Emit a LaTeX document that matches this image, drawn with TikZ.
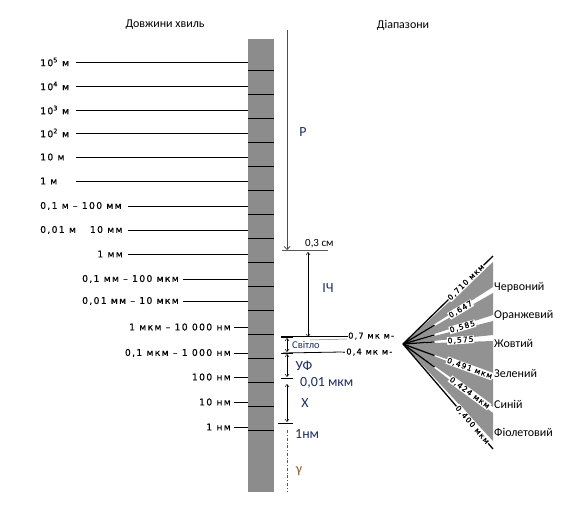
\documentclass[tikz,border=0pt]{standalone}
\usepackage{fontspec}
\setmainfont{Carlito}
\newfontfamily\scanfont[LetterSpace=14, FakeBold=0.4]{DejaVu Sans}
\usetikzlibrary{arrows.meta, calc}
\definecolor{bargray}{RGB}{140,140,140}
\definecolor{bandgray}{RGB}{146,146,146}
\definecolor{rangecolor}{RGB}{30,45,95}
\definecolor{gammacolor}{RGB}{135,90,45}

\begin{document}
\begin{tikzpicture}[x=1bp, y=-1bp,
    scan/.style={font=\scanfont\fontsize{9.3}{11}\selectfont, inner sep=0pt},
    leader/.style={line width=0.9pt},
    rangelabel/.style={font=\fontsize{14}{16}\selectfont, text=rangecolor, inner sep=0pt},
    dimarrow/.style={<->, >={Straight Barb[length=2.5pt, width=4pt]}, line width=0.5pt},
    rangetick/.style={line width=0.6pt},
    fanedge/.style={line width=1.3pt},
    fanlabel/.style={font=\scanfont\fontsize{7.6}{9}\selectfont, fill=white, inner sep=0.6pt},
    colorname/.style={anchor=west, font=\fontsize{12}{14}\selectfont, inner sep=0pt}]
  \useasboundingbox (0,0) rectangle (580,514);

  % titles
  \node[font=\fontsize{12}{14}\selectfont] (tleft) at (165,25) {Довжини хвиль};
  \node[font=\fontsize{12}{14}\selectfont] (tright) at (403,25) {Діапазони};

  % scale bar
  \node[fill=bargray, minimum width=26bp, minimum height=453bp, inner sep=0pt,
        anchor=north west] (bar) at (248,39) {};
  \foreach \y in {70,94,...,430}
    \draw[line width=0.8pt] (bar.west |- 0,\y) -- (bar.east |- 0,\y);

  % wavelengths
  \foreach \txt/\anc/\lx/\y/\sx [count=\i] in {
      {10\textsuperscript{5} м}/west/40/62/76,
      {10\textsuperscript{4} м}/west/40/86/76,
      {10\textsuperscript{3} м}/west/40/110/76,
      {10\textsuperscript{2} м}/west/40/133/76,
      {10 м}/west/40/157/76,
      {1 м}/west/40/181/76,
      {0,1 м – 100 мм}/west/40/206/128,
      {0,01 м\hspace{14bp}10 мм}/west/40/230/128,
      {1 мм}/east/123/254/128,
      {0,1 мм – 100 мкм}/east/179/279/183,
      {0,01 мм – 10 мкм}/east/179/301/183,
      {1 мкм – 10 000 нм}/east/231/327/234,
      {0,1 мкм – 1 000 нм}/east/231/353/234,
      {100 нм}/east/231/377/234,
      {10 нм}/east/231/402/234,
      {1 нм}/east/231/427/234}
  {
    \node[scan, anchor=\anc] (wl\i) at (\lx,\y) {\txt};
    \draw[leader] (\sx,\y) -- (bar.west |- 0,\y);
  }

  % radio
  \coordinate (rtop) at (287,30);
  \coordinate (rend) at (287,250);
  \draw[gray!60!black, line width=0.8pt, -{Straight Barb[length=3pt, width=6pt]}] (rtop) -- (rend);
  \node[rangelabel] (radio) at (303,132) {Р};
  \draw[gray!70!black, line width=1pt] (282,250) -- (328,250);
  \node[anchor=south west, inner sep=1pt, font=\fontsize{11}{13}\selectfont] (cm03) at (304,249) {0,3 см};

  % infrared
  \draw[dimarrow] (308,252) -- (308,337);
  \node[rangelabel] (ir) at (328,288) {ІЧ};

  % light band
  \node[scan, font=\scanfont\fontsize{8.3}{10}\selectfont, anchor=west] (n07) at (348,336) {0,7 мк м-};
  \node[scan, font=\scanfont\fontsize{8.3}{10}\selectfont, anchor=west] (n04) at (342,352) {-0,4 мк м-};
  \draw[line width=0.8pt] (281,336) -- (n07.west);
  \draw[gray, line width=0.5pt] (310,340) -- (347,339);
  \draw[line width=0.8pt] (283,353) -- (n04.west);
  \node[anchor=west, inner sep=0pt, text=rangecolor, font=\fontsize{10.5}{12}\selectfont] (light) at (292,345) {Світло};

  % uv, x-ray, gamma
  \foreach \y in {337,353,378}
    \draw[rangetick] (281,\y) -- (293,\y);
  \draw[rangetick] (278,423) -- (293,423);
  \draw[dimarrow] (287,338) -- (287,352);
  \draw[dimarrow] (287,354) -- (287,377);
  \node[rangelabel] (uv) at (304,366) {УФ};
  \node[rangelabel, anchor=west] (um001) at (300,383) {0,01 мкм};
  \draw[dimarrow] (287,384) -- (287,422);
  \node[rangelabel] (xray) at (305,403) {Х};
  \node[rangelabel, anchor=west] (nm1) at (295,434) {1нм};
  \draw[gray!70!black, line width=0.6pt, dash dot] (287,430) -- (287,492);
  \node[rangelabel, text=gammacolor] (gamma) at (299,471) {γ};

  % visible fan
  \coordinate (apex) at (403,344);
  \foreach \t/\b in {262/287, 293/315, 321/335, 341/375, 379/407, 413/441}
    \fill[bandgray] (apex) -- (493,\t) -- (493,\b) -- cycle;
  \draw[fanedge] (apex) -- (493,256) node[pos=0.7, sloped, fanlabel] {0,710 мкм};
  \draw[fanedge] (apex) -- (493,449) node[pos=0.77, sloped, fanlabel] {0,400 мкм};
  \foreach \e/\p/\txt in {290/0.64/{0,647}, 318/0.66/{0,585}, 338/0.64/{0,575},
                          377/0.74/{0,491 мкм}, 410/0.74/{0,424 мкм}}
  {
    \draw[fanedge] (apex) -- ($(apex)!0.35!(493,\e)$);
    \path (apex) -- (493,\e) node[pos=\p, sloped, fanlabel] {\txt};
  }

  % colours
  \node[colorname] (red) at (494,287) {Червоний};
  \node[colorname] (orange) at (494,315) {Оранжевий};
  \node[colorname] (yellow) at (494,344) {Жовтий};
  \node[colorname] (green) at (494,374) {Зелений};
  \node[colorname] (blue) at (494,404) {Синій};
  \node[colorname] (violet) at (494,432) {Фіолетовий};
\end{tikzpicture}
\end{document}
